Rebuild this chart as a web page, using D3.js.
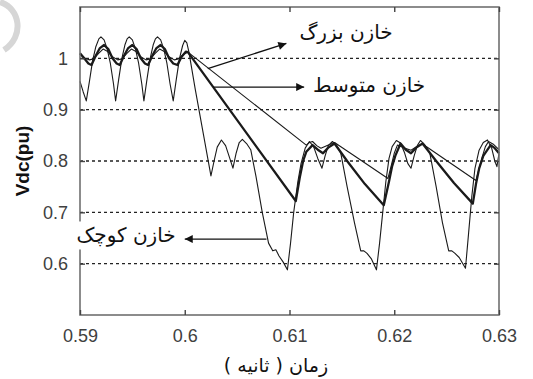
<!DOCTYPE html>
<html>
<head>
<meta charset="utf-8">
<script src="https://cdn.jsdelivr.net/npm/d3@7"></script>
<style>
  body { margin: 0; background: #fff; }
  svg { display: block; }
</style>
</head>
<body>
<svg id="chart" width="533" height="379"></svg>
<script>
// time (s) and Vdc (pu) for the three capacitor sizes
const smallCap = [
  [0.5900, 0.955], [0.5903, 0.935], [0.5906, 0.917], [0.5909, 0.955], [0.5912, 0.995],
  [0.5915, 1.022], [0.5918, 1.038], [0.5920, 1.042], [0.5923, 1.036], [0.5926, 1.018],
  [0.5929, 0.990], [0.5932, 0.950], [0.5934, 0.917], [0.5937, 0.960], [0.5940, 1.000],
  [0.5943, 1.027], [0.5945, 1.038], [0.5947, 1.042], [0.5950, 1.036], [0.5953, 1.018],
  [0.5956, 0.990], [0.5959, 0.950], [0.5961, 0.917], [0.5964, 0.960], [0.5967, 1.000],
  [0.5970, 1.027], [0.5972, 1.038], [0.5974, 1.042], [0.5977, 1.036], [0.5980, 1.018],
  [0.5983, 0.990], [0.5986, 0.950], [0.5989, 0.917], [0.5992, 0.960], [0.5995, 1.000],
  [0.5998, 1.025], [0.6000, 1.035], [0.6002, 1.030], [0.6004, 1.012],
  [0.6010, 0.940], [0.6018, 0.850], [0.6025, 0.771], [0.6028, 0.800], [0.6031, 0.827],
  [0.6035, 0.841], [0.6039, 0.830], [0.6043, 0.805], [0.6046, 0.786], [0.6049, 0.815],
  [0.6052, 0.836], [0.6055, 0.842], [0.6059, 0.834], [0.6063, 0.822],
  [0.6068, 0.770], [0.6074, 0.700], [0.6080, 0.640], [0.6084, 0.625], [0.6087, 0.627],
  [0.6090, 0.615], [0.6094, 0.603], [0.6098, 0.588], [0.6101, 0.640], [0.6104, 0.700],
  [0.6108, 0.760], [0.6111, 0.795], [0.6115, 0.825], [0.6119, 0.838], [0.6123, 0.828],
  [0.6127, 0.805], [0.6131, 0.786], [0.6134, 0.810], [0.6137, 0.830], [0.6141, 0.838],
  [0.6145, 0.830], [0.6149, 0.815], [0.6155, 0.750], [0.6162, 0.680], [0.6168, 0.625],
  [0.6171, 0.625], [0.6174, 0.620], [0.6178, 0.610], [0.6183, 0.588], [0.6186, 0.640],
  [0.6189, 0.700], [0.6192, 0.760], [0.6195, 0.805], [0.6198, 0.828], [0.6202, 0.840],
  [0.6206, 0.835], [0.6210, 0.815], [0.6213, 0.795], [0.6216, 0.786], [0.6219, 0.810],
  [0.6222, 0.830], [0.6225, 0.840], [0.6229, 0.832], [0.6234, 0.815], [0.6240, 0.750],
  [0.6246, 0.680], [0.6252, 0.625], [0.6255, 0.625], [0.6258, 0.620], [0.6262, 0.612],
  [0.6268, 0.591], [0.6271, 0.660], [0.6274, 0.730], [0.6277, 0.785], [0.6281, 0.821],
  [0.6285, 0.836], [0.6289, 0.841], [0.6293, 0.825], [0.6296, 0.800], [0.6298, 0.789],
  [0.6300, 0.815]
];

const mediumCap = [
  [0.5900, 1.010], [0.5904, 1.000], [0.5908, 0.990], [0.5911, 0.987], [0.5915, 1.005],
  [0.5919, 1.020], [0.5923, 1.026], [0.5927, 1.018], [0.5931, 1.000], [0.5935, 0.990],
  [0.5938, 0.987], [0.5942, 1.005], [0.5946, 1.020], [0.5950, 1.026], [0.5954, 1.018],
  [0.5958, 1.000], [0.5962, 0.990], [0.5965, 0.987], [0.5969, 1.005], [0.5973, 1.020],
  [0.5977, 1.026], [0.5981, 1.018], [0.5985, 1.000], [0.5989, 0.990], [0.5993, 0.987],
  [0.5997, 1.003], [0.6001, 1.013], [0.6003, 1.012],
  [0.6106, 0.722], [0.6110, 0.770],
  [0.6113, 0.800], [0.6116, 0.818], [0.6122, 0.831], [0.6127, 0.822], [0.6132, 0.815],
  [0.6137, 0.826], [0.6143, 0.834], [0.6155, 0.800], [0.6172, 0.755], [0.6190, 0.714],
  [0.6195, 0.760], [0.6198, 0.790], [0.6201, 0.810], [0.6206, 0.834], [0.6211, 0.822],
  [0.6216, 0.815], [0.6221, 0.826], [0.6227, 0.834], [0.6240, 0.800], [0.6257, 0.757],
  [0.6275, 0.717], [0.6278, 0.755], [0.6281, 0.785], [0.6285, 0.810], [0.6292, 0.831],
  [0.6296, 0.825], [0.6300, 0.815]
];

const largeCap = [
  [0.5900, 1.008], [0.5905, 1.000], [0.5909, 0.997], [0.5913, 0.999], [0.5918, 1.010],
  [0.5922, 1.018], [0.5926, 1.014], [0.5931, 1.003], [0.5936, 0.997], [0.5940, 0.999],
  [0.5945, 1.010], [0.5949, 1.018], [0.5953, 1.014], [0.5958, 1.003], [0.5963, 0.997],
  [0.5967, 0.999], [0.5972, 1.010], [0.5976, 1.018], [0.5980, 1.014], [0.5985, 1.003],
  [0.5990, 0.997], [0.5994, 0.999], [0.5999, 1.008], [0.6003, 1.012],
  [0.6116, 0.831], [0.6119, 0.836], [0.6122, 0.838], [0.6126, 0.830],
  [0.6130, 0.825], [0.6136, 0.830], [0.6143, 0.836], [0.6165, 0.806], [0.6194, 0.766],
  [0.6197, 0.790], [0.6200, 0.815], [0.6203, 0.831], [0.6209, 0.826], [0.6216, 0.821],
  [0.6222, 0.829], [0.6227, 0.833], [0.6250, 0.801], [0.6278, 0.762], [0.6281, 0.785],
  [0.6284, 0.808], [0.6287, 0.828], [0.6290, 0.838], [0.6295, 0.832], [0.6300, 0.822]
];

const xTicks = [0.59, 0.6, 0.61, 0.62, 0.63];
const yTicks = [0.6, 0.7, 0.8, 0.9, 1];

// arrow annotations: tail point on the curve, tip at the label (time, pu)
const notes = [
  { text: "خازن بزرگ", tail: [0.6022, 0.980], tip: [0.6097, 1.029], at: [0.6154, 1.049] },
  { text: "خازن متوسط", tail: [0.6027, 0.944], tip: [0.6114, 0.944], at: [0.6176, 0.945] },
  { text: "خازن کوچک", tail: [0.6078, 0.648], tip: [0.6000, 0.648], at: [0.5944, 0.652] }
];

const svg = d3.select("#chart");
const margin = { top: 7, right: 34, bottom: 64, left: 80 };
const W = 533, H = 379;

const x = d3.scaleLinear().domain([0.59, 0.63]).range([margin.left, W - margin.right]);
const y = d3.scaleLinear().domain([0.5, 1.1]).range([H - margin.bottom, margin.top]);

// faint smudge at the top left corner of the scan
svg.append("path")
    .attr("d", "M0,2 C20,8 25,36 4,50")
    .attr("fill", "none")
    .attr("stroke", "#d6d6d6")
    .attr("stroke-width", 6);

// dashed grid
svg.append("g")
    .selectAll("line")
    .data(yTicks)
    .join("line")
    .attr("x1", x(0.59))
    .attr("x2", x(0.63))
    .attr("y1", d => y(d))
    .attr("y2", d => y(d))
    .attr("stroke", "#222")
    .attr("stroke-width", 1.4)
    .attr("stroke-dasharray", "3,3");

const line = d3.line()
    .x(d => x(d[0]))
    .y(d => y(d[1]));

const series = [
    { data: largeCap, width: 1.1 },
    { data: smallCap, width: 1.1 },
    { data: mediumCap, width: 2.3 }
];

svg.append("g")
    .selectAll("path")
    .data(series)
    .join("path")
    .attr("d", d => line(d.data))
    .attr("fill", "none")
    .attr("stroke", "#1a1a1a")
    .attr("stroke-width", d => d.width)
    .attr("stroke-linejoin", "round");

// frame
svg.append("rect")
    .attr("x", x(0.59))
    .attr("y", y(1.1))
    .attr("width", x(0.63) - x(0.59))
    .attr("height", y(0.5) - y(1.1))
    .attr("fill", "none")
    .attr("stroke", "#707070")
    .attr("stroke-width", 1.6);

const fontNum = "'Liberation Sans', Arial, sans-serif";

const xAxis = svg.append("g")
    .attr("transform", `translate(0,${y(0.5)})`)
    .call(d3.axisBottom(x).tickValues(xTicks).tickSize(-5).tickPadding(14).tickFormat(d3.format("")));
const xTop = svg.append("g")
    .attr("transform", `translate(0,${y(1.1)})`)
    .call(d3.axisTop(x).tickValues(xTicks).tickSize(-5).tickFormat(""));
const yAxis = svg.append("g")
    .attr("transform", `translate(${x(0.59)},0)`)
    .call(d3.axisLeft(y).tickValues(yTicks).tickSize(-5).tickPadding(12).tickFormat(d3.format("")));
const yRight = svg.append("g")
    .attr("transform", `translate(${x(0.63)},0)`)
    .call(d3.axisRight(y).tickValues(yTicks).tickSize(-5).tickFormat(""));

[xAxis, xTop, yAxis, yRight].forEach(g => {
    g.select(".domain").remove();
    g.selectAll(".tick line").attr("stroke", "#444").attr("stroke-width", 1.4);
    g.selectAll("text")
        .attr("fill", "#404040")
        .style("font-family", fontNum)
        .style("font-size", "18px");
});

// annotations
const defs = svg.append("defs");
defs.append("marker")
    .attr("id", "head")
    .attr("viewBox", "0 0 10 10")
    .attr("refX", 10)
    .attr("refY", 5)
    .attr("markerWidth", 11)
    .attr("markerHeight", 8)
    .attr("markerUnits", "userSpaceOnUse")
    .attr("orient", "auto")
    .append("path")
    .attr("d", "M0,0 L10,5 L0,10 Z")
    .attr("fill", "#111");

const arabicFont = "'DejaVu Sans', sans-serif";

const noteG = svg.append("g");
notes.forEach(n => {
    const t = noteG.append("text")
        .attr("x", x(n.at[0]))
        .attr("y", y(n.at[1]))
        .attr("text-anchor", "middle")
        .attr("dominant-baseline", "middle")
        .attr("direction", "rtl")
        .style("font-family", arabicFont)
        .style("font-size", "20px")
        .attr("fill", "#111")
        .text(n.text);
    const b = t.node().getBBox();
    noteG.insert("rect", "text")
        .attr("x", b.x - 3)
        .attr("y", b.y - 2)
        .attr("width", b.width + 6)
        .attr("height", b.height + 4)
        .attr("fill", "#fff");
    noteG.append("line")
        .attr("x1", x(n.tail[0]))
        .attr("y1", y(n.tail[1]))
        .attr("x2", x(n.tip[0]))
        .attr("y2", y(n.tip[1]))
        .attr("stroke", "#111")
        .attr("stroke-width", 1.3)
        .attr("marker-end", "url(#head)");
});

// axis titles
svg.append("text")
    .attr("transform", `translate(24,${(y(1.1) + y(0.5)) / 2}) rotate(-90)`)
    .attr("text-anchor", "middle")
    .attr("dominant-baseline", "middle")
    .style("font-family", fontNum)
    .style("font-weight", "bold")
    .style("font-size", "19px")
    .attr("fill", "#111")
    .text("Vdc(pu)");

svg.append("text")
    .attr("x", 276)
    .attr("y", 366)
    .attr("text-anchor", "middle")
    .attr("dominant-baseline", "middle")
    .attr("direction", "rtl")
    .style("font-family", arabicFont)
    .style("font-size", "19px")
    .attr("fill", "#111")
    .text("زمان ( ثانیه )");
</script>
</body>
</html>
